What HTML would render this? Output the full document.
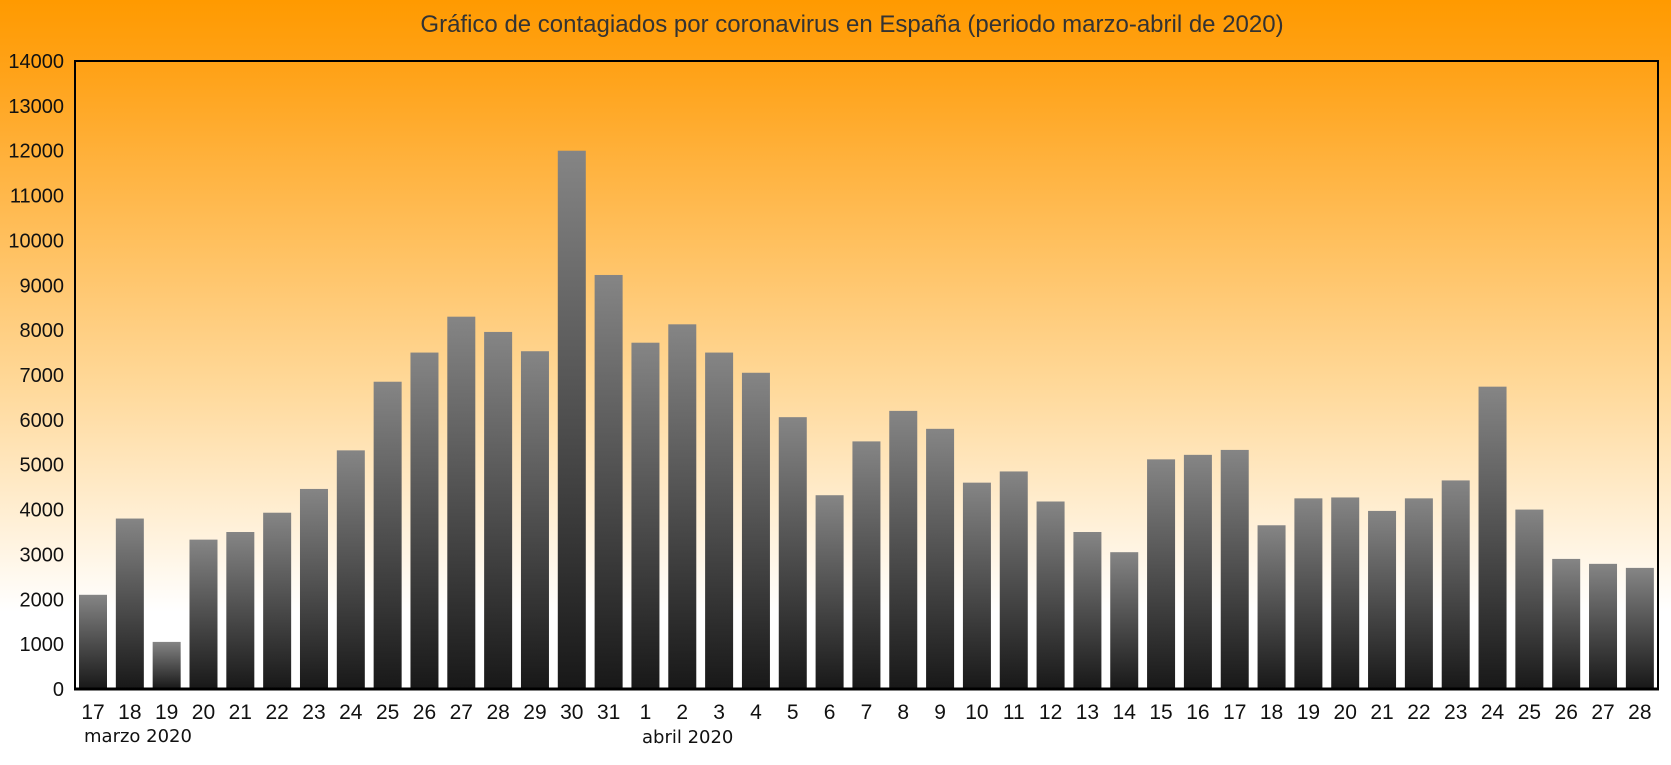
<!DOCTYPE html>
<html><head><meta charset="utf-8"><style>html,body{margin:0;padding:0}svg{display:block}</style></head>
<body>
<svg width="1671" height="765" xmlns="http://www.w3.org/2000/svg" font-family="Liberation Sans, Arial, sans-serif">
<defs>
<linearGradient id="bg" x1="0" y1="0" x2="0" y2="1">
<stop offset="0" stop-color="#ff9a00"/>
<stop offset="0.1" stop-color="#ffa31a"/>
<stop offset="0.5" stop-color="#ffd898"/>
<stop offset="0.8" stop-color="#ffffff"/>
<stop offset="1" stop-color="#ffffff"/>
</linearGradient>
<linearGradient id="bar" x1="0" y1="0" x2="0" y2="1">
<stop offset="0" stop-color="#858585"/>
<stop offset="1" stop-color="#181818"/>
</linearGradient>
</defs>
<rect width="1671" height="765" fill="url(#bg)"/>
<text x="852" y="32" text-anchor="middle" font-size="24" fill="#333">Gráfico de contagiados por coronavirus en España (periodo marzo-abril de 2020)</text>
<g id="bars"></g>
<rect x="75" y="61" width="1583" height="628" fill="none" stroke="#000" stroke-width="2"/>
<line x1="74" y1="689" x2="1659" y2="689" stroke="#000" stroke-width="3"/>
<g id="yt" font-size="20" text-anchor="end" fill="#111"></g>
<g id="xt" font-size="21" text-anchor="middle" fill="#111"></g>
<text x="84" y="742" font-family="DejaVu Sans, sans-serif" font-size="18" fill="#111">marzo 2020</text>
<text x="642" y="743" font-family="DejaVu Sans, sans-serif" font-size="18" fill="#111">abril 2020</text>
</svg>
<script>
var v=[2100,3800,1050,3330,3500,3930,4460,5320,6850,7500,8300,7960,7530,12000,9230,7720,8130,7500,7050,6060,4320,5520,6200,5800,4600,4850,4180,3500,3050,5120,5220,5330,3650,4250,4270,3970,4250,4650,6740,4000,2900,2790,2700];
var lab=[17,18,19,20,21,22,23,24,25,26,27,28,29,30,31,1,2,3,4,5,6,7,8,9,10,11,12,13,14,15,16,17,18,19,20,21,22,23,24,25,26,27,28];
var ns="http://www.w3.org/2000/svg",b=document.getElementById('bars'),xt=document.getElementById('xt'),yt=document.getElementById('yt');
function el(n,a,p,t){var e=document.createElementNS(ns,n);for(var k in a)e.setAttribute(k,a[k]);if(t!=null)e.textContent=t;p.appendChild(e);return e;}
var k=628/14000;
v.forEach(function(d,i){var x=79+i*36.83,h=d*k;el('rect',{x:x,y:689-h,width:28,height:h,fill:'url(#bar)'},b);el('text',{x:x+14,y:719},xt,lab[i]);});
for(var i=0;i<=14;i++){el('text',{x:64,y:689-i*1000*k+7},yt,i*1000);}
</script>
</body></html>
